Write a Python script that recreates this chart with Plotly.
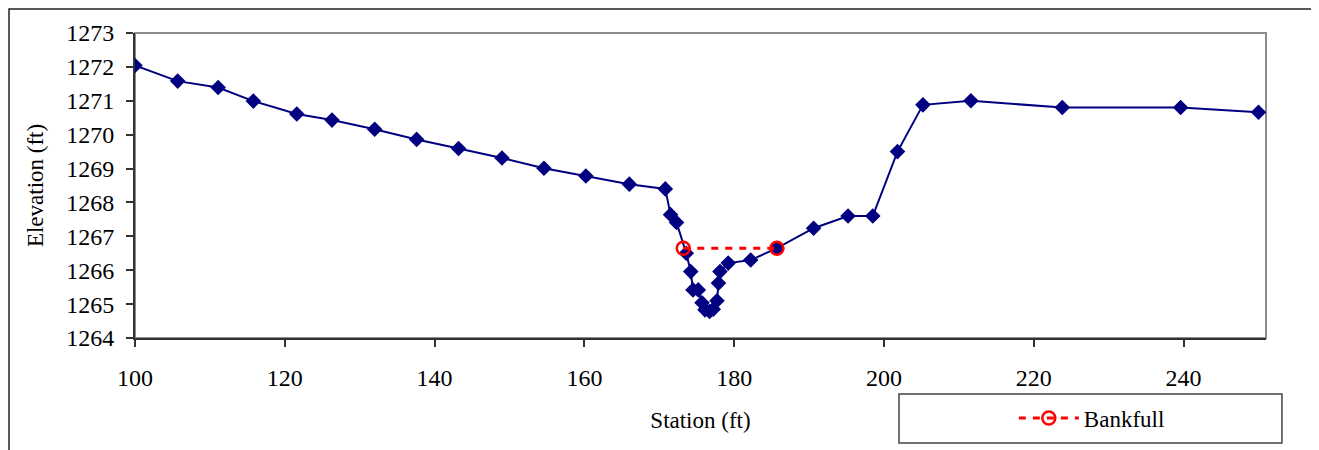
"""Cross-section profile with bankfull line."""

import plotly.graph_objects as go

# surveyed cross-section
station = [
    100.0, 105.7, 111.1, 115.8, 121.6, 126.3, 132.0, 137.6, 143.2, 149.0,
    154.6, 160.2, 166.0, 170.8, 171.5, 172.3, 173.6, 174.2, 174.5, 175.2,
    175.7, 176.1, 176.7, 177.2, 177.7, 177.9, 178.1, 179.2, 182.2, 185.7,
    190.6, 195.2, 198.5, 201.8, 205.2, 211.6, 223.8, 239.6, 250.0,
]
elevation = [
    1272.04, 1271.58, 1271.39, 1270.99, 1270.61, 1270.43, 1270.16, 1269.86, 1269.59, 1269.31,
    1269.01, 1268.78, 1268.54, 1268.40, 1267.64, 1267.41, 1266.50, 1265.96, 1265.42, 1265.42,
    1265.04, 1264.83, 1264.78, 1264.85, 1265.10, 1265.62, 1265.96, 1266.21, 1266.30, 1266.65,
    1267.24, 1267.60, 1267.60, 1269.50, 1270.88, 1271.00, 1270.80, 1270.80, 1270.66,
]

# bankfull stage
bankfull_station = [173.2, 185.7]
bankfull_elev = [1266.65, 1266.65]

x_ticks = [100, 120, 140, 160, 180, 200, 220, 240]
y_ticks = [1264, 1265, 1266, 1267, 1268, 1269, 1270, 1271, 1272, 1273]

FONT = "Liberation Serif, Times New Roman, serif"

fig = go.Figure()
fig.add_trace(
    go.Scatter(
        x=station,
        y=elevation,
        mode="lines+markers",
        line=dict(color="#000080", width=2),
        marker=dict(symbol="diamond", size=12, color="#000080"),
        showlegend=False,
        name="Ground",
    )
)
fig.add_trace(
    go.Scatter(
        x=bankfull_station,
        y=bankfull_elev,
        mode="lines+markers",
        line=dict(color="#FF0000", width=3, dash="7px,7px"),
        marker=dict(
            symbol="circle-open", size=13, color="#FF0000", line=dict(width=2.5, color="#FF0000")
        ),
        name="Bankfull",
    )
)

# plot-area frame (grey), outer chart frame and legend box
fig.add_shape(type="rect", xref="paper", yref="paper", x0=0, x1=1, y0=0, y1=1,
              line=dict(color="#8c8c8c", width=2), layer="below")
fig.add_shape(type="rect", xref="paper", yref="paper", x0=-0.1114, x1=1.0451,
              y0=-0.45, y1=1.0787, line=dict(color="#222222", width=1.5))
fig.add_shape(type="rect", xref="paper", yref="paper", x0=0.6755, x1=1.0141,
              y0=-0.3443, y1=-0.1836, line=dict(color="#444444", width=1.5))

fig.update_layout(
    width=1319,
    height=450,
    margin=dict(l=127, r=61, t=25, b=120),
    paper_bgcolor="white",
    plot_bgcolor="white",
    font=dict(family=FONT, size=24, color="black"),
    legend=dict(
        x=0.846, y=-0.2623, xanchor="center", yanchor="middle",
        bgcolor="rgba(0,0,0,0)", borderwidth=0,
        font=dict(family=FONT, size=23, color="black"),
        itemwidth=60,
    ),
)
fig.update_xaxes(
    range=[100, 251], tickvals=x_ticks, showgrid=False, zeroline=False,
    showline=True, linecolor="#333333", linewidth=2,
    ticks="outside", ticklen=7, tickcolor="#333333", tickwidth=1.5,
    ticklabelstandoff=10,
    title=dict(text="Station (ft)", standoff=22, font=dict(family=FONT, size=23)),
)
fig.update_yaxes(
    range=[1264, 1273], tickvals=y_ticks, showgrid=False, zeroline=False,
    showline=True, linecolor="#333333", linewidth=2,
    ticks="outside", ticklen=7, tickcolor="#333333", tickwidth=1.5,
    ticklabelstandoff=7,
    title=dict(text="Elevation (ft)", standoff=16, font=dict(family=FONT, size=23)),
)

fig.write_html("out.html")
